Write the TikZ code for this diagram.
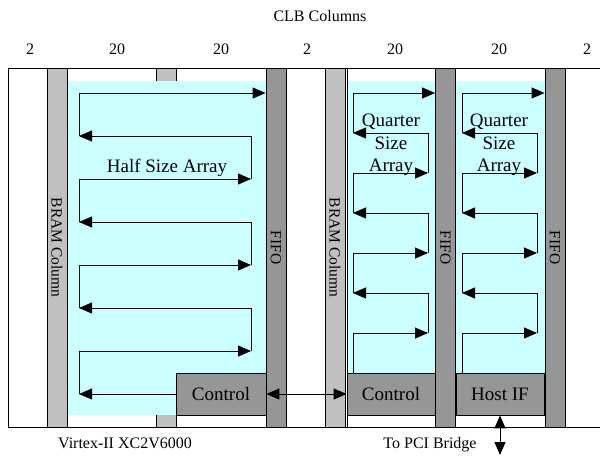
\documentclass[tikz,border=0pt]{standalone}
\usepackage{fontspec}
\setmainfont{Liberation Serif}
\usetikzlibrary{arrows.meta,positioning,calc}
\definecolor{arraycyan}{RGB}{204,255,255}
\definecolor{bramgray}{RGB}{192,192,192}
\definecolor{fifogray}{RGB}{150,150,150}
\newcommand{\lblbig}{\fontsize{19}{22.5}\selectfont}
\newcommand{\lblmid}{\fontsize{15.5}{18}\selectfont}
\newcommand{\lblsmall}{\fontsize{16}{19}\selectfont}

\begin{document}
\begin{tikzpicture}[x=1pt, y=-1pt,
    column/.style={draw, line width=0.8pt, inner sep=0pt, minimum width=20pt, minimum height=359pt},
    bram/.style={column, fill=bramgray},
    fifo/.style={column, fill=fifogray},
    array/.style={fill=arraycyan, inner sep=0pt},
    block/.style={draw, line width=0.8pt, fill=fifogray, inner sep=0pt, minimum height=42pt, font=\lblbig},
    vlabel/.style={rotate=-90, inner sep=0pt, font=\lblmid},
    note/.style={anchor=base, inner sep=0pt, font=\lblsmall},
    flow/.style={line width=1pt, -{Triangle[length=13pt,width=11pt]}},
    both/.style={line width=1pt, {Triangle[length=13pt,width=11pt]}-{Triangle[length=13pt,width=11pt]}}
]
    \useasboundingbox (0,0) rectangle (600,456);

    % Frame
    \draw[line width=0.8pt] (600,68) -- (8,68) -- (8,427) -- (600,427);

    % Column under the half array
    \node[bram, fill=bramgray] (midcol) at (166,247.5) {};

    % Arrays
    \node[array, minimum width=199pt, minimum height=334pt] (half) at (166.5,248) {};
    \node[array, minimum width=88pt, minimum height=292pt] (q1) at (391,227) {};
    \node[array, minimum width=89pt, minimum height=292pt] (q2) at (500.5,227) {};

    % BRAM and FIFO columns
    \node[bram] (bram1) at (57,247.5) {};
    \node[fifo] (fifo1) at (276,247.5) {};
    \node[bram] (bram2) at (335,247.5) {};
    \node[fifo] (fifo2) at (445.5,247.5) {};
    \node[fifo] (fifo3) at (555,247.5) {};
    \draw[line width=0.8pt] (347,68) -- (347,427);

    \node[vlabel] at (bram1.center) {BRAM Column};
    \node[vlabel] at (bram2.center) {BRAM Column};
    \foreach \f in {fifo1,fifo2,fifo3}
        \node[vlabel] at (\f.center) {FIFO};

    % Control blocks
    \node[block, minimum width=90pt] (ctrl1) at (221,394) {Control};
    \node[block, minimum width=88pt] (ctrl2) at (391,394) {Control};
    \node[block, minimum width=88pt] (hostif) at (500,394) {Host IF};

    % Half size array data path
    \draw[flow] (ctrl1.west) -- (79,394);
    \foreach \y in {394,308,222} {
        \draw[flow] (79,\y) -- (79,\y-43) -- (251,\y-43);
        \draw[flow] (251,\y-43) -- (251,\y-86) -- (79,\y-86);
    }
    \coordinate (top1) at (79,93);
    \draw[flow] (79,136) -- (top1) -- (top1 -| fifo1.west);

    % Quarter size array data paths
    \foreach \l/\r/\b/\f in {353/428/ctrl2/fifo2, 462/537/hostif/fifo3} {
        \coordinate (s) at (\l,0);
        \coordinate (t) at (\l,93);
        \draw[flow] (\b.north -| s) -- (\l,333) -- (\r,333);
        \foreach \y in {333,253} {
            \draw[flow] (\r,\y) -- (\r,\y-40) -- (\l,\y-40);
            \draw[flow] (\l,\y-40) -- (\l,\y-80) -- (\r,\y-80);
        }
        \draw[flow] (\r,173) -- (\r,133) -- (\l,133);
        \draw[flow] (\l,133) -- (t) -- (t -| \f.west);
    }

    % Array labels
    \node[anchor=base, inner sep=0pt, font=\lblbig] (halflbl) at (167,172) {Half Size Array};
    \node[align=center, inner sep=0pt, font=\lblbig] (q1lbl) at (391,145) {Quarter\\Size\\Array};
    \node[align=center, inner sep=0pt, font=\lblbig] (q2lbl) at (499,145) {Quarter\\Size\\Array};

    % Links
    \draw[both] (ctrl1.east) -- (ctrl2.west);
    \coordinate (pci) at (500,455);
    \draw[both] (hostif.south) -- (pci);

    % Column widths
    \node[note] (title) at (320,21) {CLB Columns};
    \foreach \x/\n in {30/2, 117/20, 221/20, 307/2, 395/20, 499/20, 587/2}
        \node[note] (w\x) at (\x,54) {\n};

    % Captions
    \node[note] (chip) at (125,448) {Virtex-II XC2V6000};
    \node[note] (bridge) at (430,448) {To PCI Bridge};
\end{tikzpicture}
\end{document}
